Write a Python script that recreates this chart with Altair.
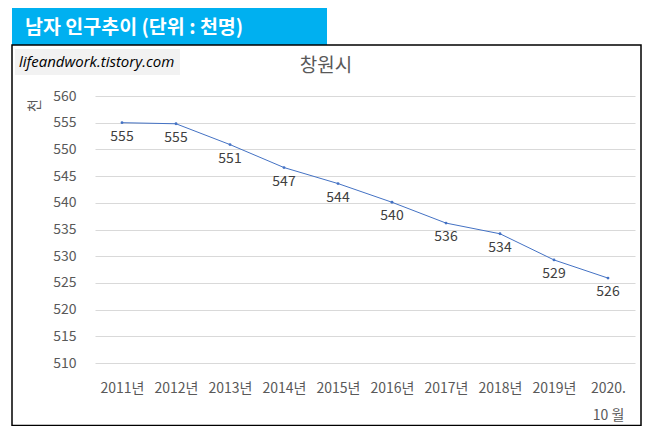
import altair as alt
import pandas as pd

years = ["2011년", "2012년", "2013년", "2014년", "2015년", "2016년",
         "2017년", "2018년", "2019년", "2020.10 월"]
male_pop = [555.0, 554.8, 550.9, 546.6, 543.6, 540.1, 536.2, 534.2, 529.3, 525.9]
y_ticks = [510, 515, 520, 525, 530, 535, 540, 545, 550, 555, 560]

df = pd.DataFrame({"year": years, "pop": male_pop})

FONT = "Noto Sans CJK KR"
one = alt.InlineData(values=[{"a": 1}])

x_enc = alt.X("year:N", sort=years, title=None,
              scale=alt.Scale(paddingInner=0, paddingOuter=0.5),
              axis=alt.Axis(labelAngle=0, ticks=False, domain=False, labelOverlap=False,
                            labelFont=FONT, labelFontSize=14, labelColor="#595959",
                            labelPadding=18, labelBaseline="top", labelLineHeight=27,
                            labelExpr="datum.value == '2020.10 월' ? ['2020.', '10 월'] : datum.label"))
y_enc = alt.Y("pop:Q", title="천",
              scale=alt.Scale(domain=[510, 560], nice=False, zero=False),
              axis=alt.Axis(values=y_ticks, ticks=False, domain=False, labelOverlap=False,
                            labelFont=FONT, labelFontSize=14, labelColor="#595959",
                            labelPadding=19, gridColor="#D9D9D9", gridWidth=1,
                            titleFont=FONT, titleFontSize=14, titleColor="#595959",
                            titleFontWeight="normal", titleAngle=270,
                            titleX=-61, titleY=9, titleAlign="center",
                            titleBaseline="middle"))

line = alt.Chart(df).mark_line(color="#4472C4", strokeWidth=1,
                               point=alt.OverlayMarkDef(filled=True, size=8, color="#4472C4")
                               ).encode(x=x_enc, y=y_enc)

labels = alt.Chart(df).mark_text(font=FONT, fontSize=14, color="#404040",
                                 baseline="middle", dy=14).encode(
    x=x_enc, y=y_enc,
    text=alt.Text("pop:Q", format=".0f"))

border = alt.Chart(one).mark_rect(fill="transparent", stroke="#000000", strokeWidth=1.5).encode(
    x=alt.value(-83), x2=alt.value(546), y=alt.value(-51), y2=alt.value(329.5))

blue_box = alt.Chart(one).mark_rect(color="#00B0F0").encode(
    x=alt.value(-83), x2=alt.value(232), y=alt.value(-88), y2=alt.value(-51))

blue_text = alt.Chart(one).mark_text(text="남자 인구추이 (단위 : 천명)", font=FONT, fontSize=19.5,
                                     fontWeight="bold", color="#FFFFFF", align="left",
                                     baseline="middle").encode(
    x=alt.value(-70), y=alt.value(-68))

wm_box = alt.Chart(one).mark_rect(color="#F2F2F2").encode(
    x=alt.value(-80), x2=alt.value(85), y=alt.value(-47), y2=alt.value(-21))

wm_text = alt.Chart(one).mark_text(text="lifeandwork.tistory.com", font="Open Sans",
                                   fontSize=15, fontStyle="italic", color="#000000",
                                   align="left", baseline="middle").encode(
    x=alt.value(-76), y=alt.value(-34))

title = alt.Chart(one).mark_text(text="창원시", font=FONT, fontSize=19, color="#595959",
                                 align="center", baseline="middle").encode(
    x=alt.value(231), y=alt.value(-30))

chart = alt.layer(blue_box, border, wm_box, wm_text, blue_text, title, line, labels).properties(
    width=540, height=267,
    autosize=alt.AutoSizeParams(type="none"),
    padding={"left": 87, "top": 88, "right": 12, "bottom": 63},
    background="#FFFFFF",
).configure_view(stroke=None)

chart.save("out.html", embed_options={"renderer": "svg", "actions": False})
